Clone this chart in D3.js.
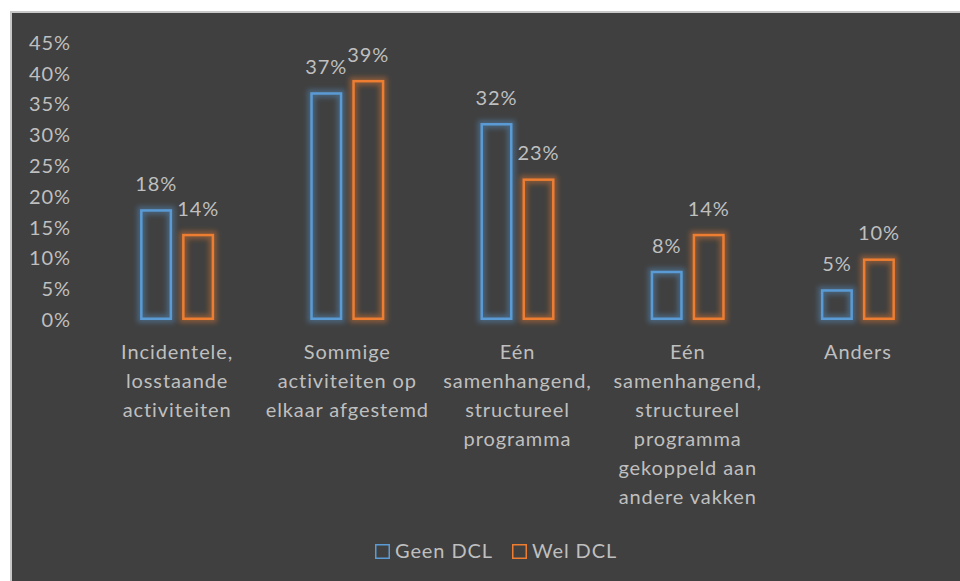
<!DOCTYPE html>
<html>
<head>
<meta charset="utf-8">
<script src="https://cdn.jsdelivr.net/npm/d3@7"></script>
<style>
  body { margin: 0; background: #fff; }
  svg { display: block; font-family: Lato, "Open Sans", sans-serif; }
  text { letter-spacing: 0.9px; }
</style>
</head>
<body>
<svg width="960" height="581"></svg>
<script>
const categories = [
    ["Incidentele,", "losstaande", "activiteiten"],
    ["Sommige", "activiteiten op", "elkaar afgestemd"],
    ["Eén", "samenhangend,", "structureel", "programma"],
    ["Eén", "samenhangend,", "structureel", "programma", "gekoppeld aan", "andere vakken"],
    ["Anders"]
];
const seriesNames = ["Geen DCL", "Wel DCL"];
const geenDCL = [18, 37, 32, 8, 5];
const welDCL = [14, 39, 23, 14, 10];
const yTicks = [0, 5, 10, 15, 20, 25, 30, 35, 40, 45];

const colors = { "Geen DCL": "#5b9bd5", "Wel DCL": "#ed7d31" };
const textColor = "#bfbfbf";

const svg = d3.select("svg");

// chart area background with a light border on top and left
svg.append("rect")
    .attr("x", 10).attr("y", 11)
    .attr("width", 950).attr("height", 570)
    .attr("fill", "#c8c8c8");
svg.append("rect")
    .attr("x", 12).attr("y", 13)
    .attr("width", 948).attr("height", 568)
    .attr("fill", "#404040");

// soft blur used for the glow under each bar outline
svg.append("defs").append("filter")
    .attr("id", "soft")
    .attr("x", "-60%").attr("y", "-30%")
    .attr("width", "220%").attr("height", "160%")
    .append("feGaussianBlur")
        .attr("stdDeviation", 2.5);

const x0 = d3.scaleBand()
    .domain(d3.range(categories.length))
    .range([92, 943])
    .paddingInner(0.565)
    .paddingOuter(0.2825);

const x1 = d3.scaleBand()
    .domain(seriesNames)
    .range([0, x0.bandwidth()])
    .paddingInner(0.238);

const y = d3.scaleLinear().domain([0, 45]).range([320, 43]);

// y axis labels
const yAxis = svg.append("g")
    .attr("transform", "translate(92,0)")
    .call(d3.axisLeft(y).tickValues(yTicks).tickSize(0).tickPadding(21).tickFormat(d => d + "%"));
yAxis.select(".domain").remove();
yAxis.selectAll("text")
    .attr("fill", textColor)
    .style("font-size", "20px")
    .style("font-family", "Lato, 'Open Sans', sans-serif");

const rows = categories.map((c, i) => ({ i, values: [geenDCL[i], welDCL[i]] }));

const groups = svg.selectAll(".group")
    .data(rows)
    .enter().append("g")
        .attr("class", "group")
        .attr("transform", d => "translate(" + x0(d.i) + ",0)");

const barData = d => d.values.map((v, k) => ({ s: seriesNames[k], k, v }));

// glow
groups.selectAll(".glow")
    .data(barData)
    .enter().append("rect")
        .attr("class", "glow")
        .attr("x", d => x1(d.s) + 1.25)
        .attr("y", d => y(d.v) + 1.25)
        .attr("width", x1.bandwidth() - 2.5)
        .attr("height", d => y(0) - y(d.v) - 2.5)
        .attr("fill", "none")
        .attr("stroke", d => colors[d.s])
        .attr("stroke-width", 8)
        .attr("stroke-opacity", 0.4)
        .attr("filter", "url(#soft)");

groups.selectAll(".bar")
    .data(barData)
    .enter().append("rect")
        .attr("class", "bar")
        .attr("x", d => x1(d.s) + 1.25)
        .attr("y", d => y(d.v) + 1.25)
        .attr("width", x1.bandwidth() - 2.5)
        .attr("height", d => y(0) - y(d.v) - 2.5)
        .attr("fill", "none")
        .attr("stroke", d => colors[d.s])
        .attr("stroke-width", 2.5);

groups.selectAll(".value")
    .data(barData)
    .enter().append("text")
        .attr("class", "value")
        .attr("x", d => x1(d.s) + x1.bandwidth() / 2)
        .attr("y", d => y(d.v) - 18)
        .attr("text-anchor", "middle")
        .attr("fill", textColor)
        .style("font-size", "20px")
        .text(d => d.v + "%");

// category labels
const catLabels = svg.selectAll(".cat")
    .data(categories)
    .enter().append("text")
        .attr("class", "cat")
        .attr("text-anchor", "middle")
        .attr("fill", textColor)
        .style("font-size", "20px")
        .attr("transform", (d, i) => "translate(" + (x0(i) + x0.bandwidth() / 2) + ",359)");
catLabels.selectAll("tspan")
    .data(d => d)
    .enter().append("tspan")
        .attr("x", 0)
        .attr("y", (d, j) => j * 29)
        .text(d => d);

// legend
const legendX = [375, 512];
const legend = svg.selectAll(".legend")
    .data(seriesNames)
    .enter().append("g")
        .attr("class", "legend")
        .attr("transform", (d, i) => "translate(" + legendX[i] + ",544)");
legend.append("rect")
    .attr("x", 0.75).attr("y", 0.75)
    .attr("width", 13.5).attr("height", 13.5)
    .attr("fill", "none")
    .attr("stroke", d => colors[d])
    .attr("stroke-width", 1.5);
legend.append("text")
    .attr("x", 20).attr("y", 14)
    .attr("fill", textColor)
    .style("font-size", "20px")
    .text(d => d);
</script>
</body>
</html>
